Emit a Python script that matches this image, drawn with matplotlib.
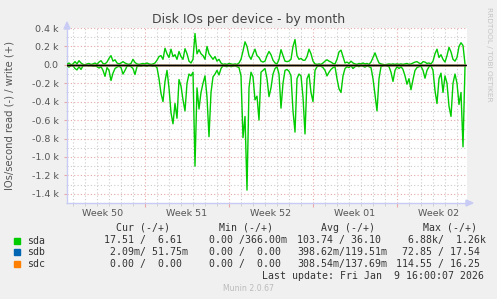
import numpy as np
import pandas as pd
import matplotlib
matplotlib.use("Agg")
import matplotlib.pyplot as plt
import matplotlib.dates as mdates
from matplotlib.patches import Rectangle
from matplotlib.ticker import MultipleLocator, FuncFormatter

# ---------------- data (4-hour samples) ----------------
start_time = "2025-12-08 12:00"
sample_freq = "4h"

sda_write = [5, 20, 0, 10, 35, 10, 45, 20, 5, 0, 10, 15, 5, 10, 20, 5, 30, 45, 15, 10,
             30, 70, 100, 40, 55, 20, 10, 20, 35, 20, 10, 5, 15, 60, 25, 10, 5, 10, 15, 10,
             20, 10, 5, 10, 20, 50, 90, 100, 60, 180, 120, 80, 170, 90, 110, 60, 145, 90, 60, 175,
             120, 40, 20, 60, 340, 120, 165, 120, 100, 60, 200, 120, 90, 60, 90, 40, 60, 20, 5, 10,
             5, 15, 10, 5, 10, 5, 20, 60, 150, 250, 200, 100, 60, 120, 170, 100, 80, 40, 30, 40,
             100, 145, 110, 50, 20, 10, 60, 165, 100, 40, 35, 40, 60, 200, 275, 100, 60, 70, 50, 50,
             90, 170, 120, 40, 10, 5, 10, 5, 20, 40, 55, 40, 30, 15, 10, 60, 140, 160, 90, 20,
             30, 15, 40, 20, 10, 5, 15, 10, 20, 10, 15, 5, 30, 80, 130, 70, 20, 10, 5, 0,
             5, 10, 5, 10, 5, 10, 5, 10, 5, 10, 15, 5, 10, 20, 30, 35, 20, 10, 35, 30,
             15, 20, 10, 40, 120, 170, 80, 110, 60, 30, 100, 190, 140, 60, 40, 80, 200, 240, 210, 10]

sda_read = [5, 25, 5, 10, 40, 55, 20, 50, 10, 5, 5, 10, 5, 15, 10, 20, 35, 20, 60, 125,
            30, 60, 170, 90, 40, 25, 15, 30, 100, 60, 15, 10, 20, 40, 105, 20, 10, 15, 5, 10,
            15, 5, 10, 15, 10, 30, 150, 310, 400, 180, 60, 250, 520, 640, 420, 580, 160, 230, 380, 500,
            200, 100, 120, 80, 1100, 250, 480, 300, 200, 120, 350, 780, 300, 130, 100, 60, 110, 40, 10, 15,
            20, 10, 20, 15, 10, 20, 30, 120, 790, 560, 1360, 250, 80, 130, 380, 340, 600, 80, 60, 40,
            150, 345, 250, 100, 40, 20, 100, 470, 200, 60, 50, 70, 120, 500, 730, 150, 100, 120, 350, 750,
            150, 100, 300, 400, 60, 20, 10, 15, 30, 60, 120, 80, 50, 30, 20, 150, 260, 300, 120, 40,
            20, 30, 10, 40, 20, 10, 20, 5, 15, 25, 10, 20, 30, 150, 330, 500, 150, 20, 10, 5,
            10, 20, 80, 180, 60, 20, 40, 20, 50, 120, 210, 150, 270, 160, 60, 30, 20, 15, 60, 145,
            60, 20, 10, 60, 280, 420, 150, 90, 300, 120, 200, 450, 560, 200, 100, 200, 430, 300, 890, 20]

sdb_write = [0] * 200
sdb_read = [0] * 200
sdc_write = [0] * 200
sdc_read = [0] * 200

week_labels = ["Week 50", "Week 51", "Week 52", "Week 01", "Week 02"]
week_centers = ["2025-12-11 12:00", "2025-12-18 12:00", "2025-12-25 12:00",
                "2026-01-01 12:00", "2026-01-08 12:00"]
x_start = "2025-12-08 12:00"
x_end = "2026-01-10 20:00"

legend_names = ["sda", "sdb", "sdc"]
legend_colors = ["#00CC00", "#0066B3", "#FF8000"]
legend_cur = [" 17.51 /  6.61", "  2.09m/ 51.75m", "  0.00 /  0.00"]
legend_min = ["  0.00 /366.00m", "  0.00 /  0.00", "  0.00 /  0.00"]
legend_avg = ["103.74 / 36.10", "398.62m/119.51m", "308.54m/137.69m"]
legend_max = ["  6.88k/  1.26k", " 72.85 / 17.54", "114.55 / 16.25"]
last_update = "Last update: Fri Jan  9 16:00:07 2026"

# ---------------- figure ----------------
W, H = 497, 299
fig = plt.figure(figsize=(W / 100, H / 100), dpi=100, facecolor="#F0F0F0")
ax = fig.add_axes([67 / W, 1 - 203 / H, 400 / W, 175 / H], facecolor="white")

t = pd.date_range(start_time, periods=len(sda_write), freq=sample_freq)

for wv, rv, c, z in [(sda_write, sda_read, legend_colors[0], 3),
                     (sdb_write, sdb_read, legend_colors[1], 4),
                     (sdc_write, sdc_read, legend_colors[2], 5)]:
    ax.plot(t, np.array(wv), color=c, lw=1.0, zorder=z)
    ax.plot(t, -np.array(rv), color=c, lw=1.0, zorder=z)

ax.axhline(0, color="black", lw=1.0, zorder=6)

ax.set_ylim(-1500, 400)
ax.set_xlim(pd.Timestamp(x_start), pd.Timestamp(x_end))

# grids
ax.yaxis.set_major_locator(MultipleLocator(200))
ax.yaxis.set_minor_locator(MultipleLocator(100))


def yfmt(v, pos):
    if abs(v) < 1e-9:
        return "0.0"
    return f"{v / 1000:.1f} k"


ax.yaxis.set_major_formatter(FuncFormatter(yfmt))
ax.xaxis.set_major_locator(mdates.WeekdayLocator(byweekday=mdates.MO))
ax.xaxis.set_minor_locator(mdates.DayLocator())
ax.xaxis.set_major_formatter(plt.NullFormatter())

ax.grid(which="major", axis="both", color="#E8A8A8", linestyle=(0, (1, 2)), lw=0.8, zorder=1)
ax.grid(which="minor", axis="both", color="#CCCCCC", linestyle=(0, (1, 2)), lw=0.8, zorder=0)

ax.tick_params(axis="y", which="major", length=2, color="#E8A8A8", labelsize=6.8,
               labelcolor="#555555", pad=4)
ax.tick_params(axis="y", which="minor", length=1, color="#CCCCCC")
ax.tick_params(axis="x", which="major", length=3, color="#E8A8A8")
ax.tick_params(axis="x", which="minor", length=2, color="#CCCCCC")

for s in ["top", "right"]:
    ax.spines[s].set_visible(False)
for s in ["left", "bottom"]:
    ax.spines[s].set_color("#C8CCF4")
    ax.spines[s].set_linewidth(1.0)

# axis arrows
fig.patches.append(plt.Polygon([[64 / W, 1 - 29 / H], [70 / W, 1 - 29 / H], [67 / W, 1 - 22 / H]],
                               closed=True, transform=fig.transFigure, color="#C8CCF4"))
fig.patches.append(plt.Polygon([[466 / W, 1 - 200 / H], [466 / W, 1 - 206 / H], [473 / W, 1 - 203 / H]],
                               closed=True, transform=fig.transFigure, color="#C8CCF4"))

# week labels
for lab, c in zip(week_labels, week_centers):
    ax.text(pd.Timestamp(c), -0.06, lab, transform=ax.get_xaxis_transform(),
            ha="center", va="center", fontsize=6.8, color="#555555")

# title and labels
fig.text(248.5 / W, 1 - 19 / H, "Disk IOs per device - by month", ha="center", va="center",
         fontsize=9, color="#444444")
fig.text(10 / W, 1 - 115 / H, "IOs/second read (-) / write (+)", rotation=90, ha="center",
         va="center", fontsize=7.2, color="#555555")
fig.text(489 / W, 1 - 54 / H, "RRDTOOL / TOBI OETIKER", rotation=270, ha="center", va="center",
         fontsize=5.3, color="#C4C4C4")

# legend
mono = dict(family="DejaVu Sans Mono", fontsize=7.1, color="#333333", va="center")
hy = 1 - 228 / H
fig.text(116 / W, hy, "Cur (-/+)", ha="left", **mono)
fig.text(219 / W, hy, "Min (-/+)", ha="left", **mono)
fig.text(321 / W, hy, "Avg (-/+)", ha="left", **mono)
fig.text(423 / W, hy, "Max (-/+)", ha="left", **mono)
row_y = [240.5, 252, 264]
for i, name in enumerate(legend_names):
    y = 1 - row_y[i] / H
    fig.patches.append(Rectangle((14 / W, y - 3 / H), 6 / W, 6 / H, transform=fig.transFigure,
                                 color=legend_colors[i]))
    fig.text(27 / W, y, name, ha="left", **mono)
    fig.text(98 / W, y, legend_cur[i], ha="left", **mono)
    fig.text(197 / W, y, legend_min[i], ha="left", **mono)
    fig.text(297 / W, y, legend_avg[i], ha="left", **mono)
    fig.text(395.5 / W, y, legend_max[i], ha="left", **mono)
fig.text(484 / W, 1 - 276 / H, last_update, ha="right", **mono)
fig.text(248 / W, 1 - 288.5 / H, "Munin 2.0.67", ha="center", va="center",
         fontsize=5.6, color="#BBBBBB")

fig.savefig("out.png", dpi=100, facecolor=fig.get_facecolor())
